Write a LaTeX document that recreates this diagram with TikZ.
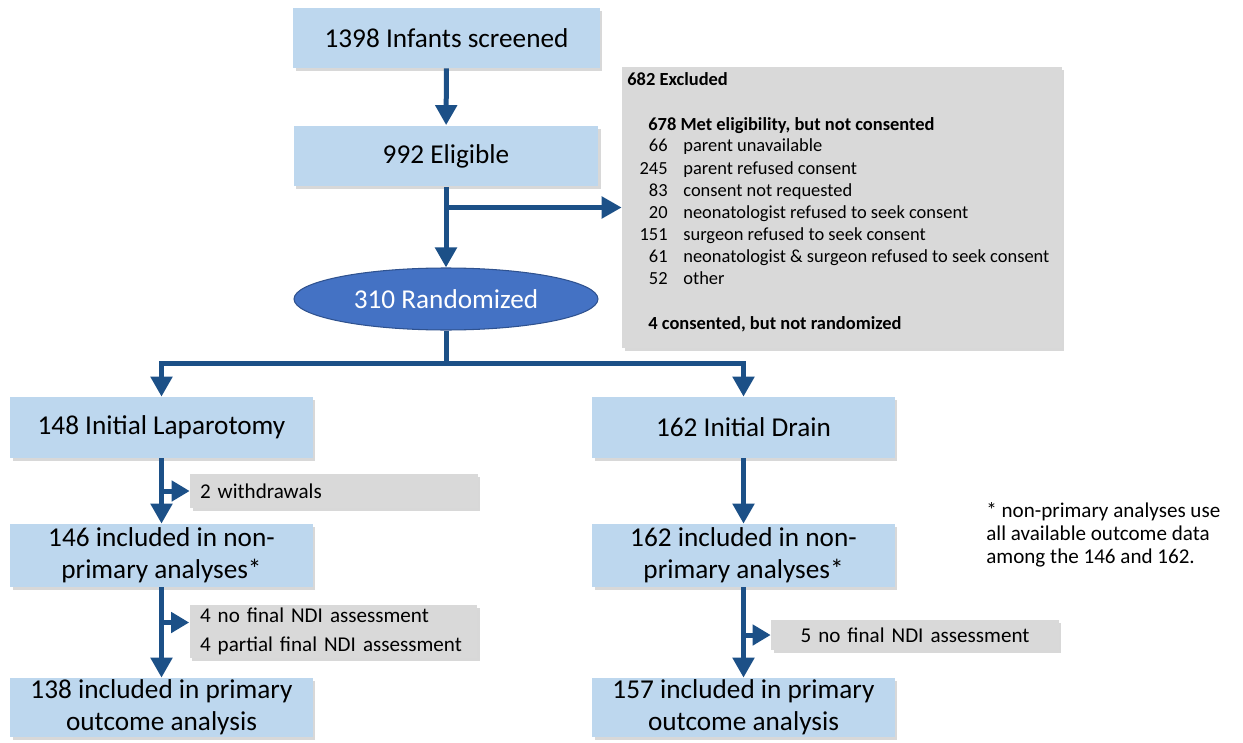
\documentclass[tikz,border=0pt]{standalone}
\usepackage{fontspec}
\setmainfont{Carlito}
\usepackage{tikz}
\usetikzlibrary{arrows.meta, shapes.geometric, shadows, calc}
\definecolor{boxblue}{RGB}{189,215,238}
\definecolor{arrblue}{RGB}{28,80,135}
\definecolor{randblue}{RGB}{68,114,196}
\definecolor{randedge}{RGB}{47,82,143}
\definecolor{gr}{RGB}{217,217,217}

\begin{document}
\begin{tikzpicture}[x=0.02cm, y=-0.02cm,
  shade/.style={drop shadow={shadow xshift=0.05cm, shadow yshift=-0.06cm, fill=black!30}},
  mainbox/.style={shade, fill=boxblue, minimum width=6.06cm, minimum height=1.22cm, align=center, inner sep=0pt, font=\fontsize{15.5}{18}\selectfont},
  sidebox/.style={shade, fill=gr, minimum width=5.76cm, inner xsep=0.2cm, inner ysep=0pt, font=\fontsize{12}{12.8}\selectfont},
  excltxt/.style={inner sep=0pt, font=\fontsize{10.5}{12.5}\selectfont},
  arr/.style={line width=0.1cm, draw=arrblue, -{Triangle[width=0.42cm,length=0.4cm]}},
  sidearr/.style={line width=0.1cm, draw=arrblue, -{Triangle[width=0.4cm,length=0.36cm]}},
  line/.style={line width=0.1cm, draw=arrblue}]
\useasboundingbox (0,0) rectangle (1243,743);

\node[mainbox, minimum width=6.14cm, minimum height=1.2cm] (screen) at (446.5,38) {1398 Infants screened};
\node[mainbox, minimum width=6.1cm] (elig) at (446,156) {992 Eligible};
\node[ellipse, fill=randblue, draw=randedge, line width=0.6pt, minimum width=6.08cm, minimum height=1.24cm, inner sep=0pt, text=white, font=\fontsize{15.5}{18}\selectfont] (rand) at (446,299) {310 Randomized};

% excluded
\node[shade, fill=gr, minimum width=8.8cm, minimum height=5.62cm, inner sep=0pt] (excl) at (842,207.5) {};
\node[excltxt, anchor=base west, font=\fontsize{10.5}{12.5}\selectfont\bfseries] (exclhead) at (627,86) {682 Excluded};
\node[excltxt, anchor=base west, font=\fontsize{10.5}{12.5}\selectfont\bfseries] (metelig) at (648,131) {678 Met eligibility, but not consented};
\foreach \n/\why [count=\i] in {66/parent unavailable, 245/parent refused consent, 83/consent not requested, 20/neonatologist refused to seek consent, 151/surgeon refused to seek consent, 61/neonatologist \& surgeon refused to seek consent, 52/other}{
\node[excltxt, anchor=base east] (num\i) at (668,130+22*\i) {\n};
\node[excltxt, anchor=base west] (why\i) at (683,130+22*\i) {\why};
}
\node[excltxt, anchor=base west, font=\fontsize{10.5}{12.5}\selectfont\bfseries] (notrand) at (648,329) {4 consented, but not randomized};

% laparotomy arm
\node[mainbox] (lap) at (161.5,427.5) {148 Initial Laparotomy};
\node[mainbox, minimum height=1.26cm] (nonpL) at (161.5,555.5) {146 included in non-\\primary analyses*};
\node[mainbox, minimum height=1.18cm] (primL) at (161.5,707.5) {138 included in primary\\outcome analysis};
\node[sidebox, minimum height=0.68cm, text width=5.36cm, align=left] (wdr) at (334,491) {2 withdrawals};
\node[sidebox, minimum height=1.06cm, text width=5.34cm, align=left] (ndiL) at (333.5,631.5) {4 no final NDI assessment\\[0.12cm]4 partial final NDI assessment};

% drain arm
\node[mainbox] (drain) at (743.5,427.5) {162 Initial Drain};
\node[mainbox, minimum height=1.26cm] (nonpR) at (743.5,555.5) {162 included in non-\\primary analyses*};
\node[mainbox, minimum height=1.18cm] (primR) at (743.5,707.5) {157 included in primary\\outcome analysis};
\node[sidebox, minimum height=0.6cm, text width=5.36cm, align=center] (ndiR) at (915,635) {5 no final NDI assessment};

\node[anchor=west, align=left, inner sep=0pt, font=\fontsize{12}{13}\selectfont] (note) at (986,535) {* non-primary analyses use\\all available outcome data\\among the 146 and 162.};

\draw[arr] (screen) -- (elig);
\draw[arr] (elig) -- (rand);
\draw[arr] (elig.south |- excl.west) -- (excl.west);
\coordinate (split) at (446,363);
\draw[line] (rand) -- (split);
\draw[arr] (split) -| (lap);
\draw[arr] (split) -| (drain);

\draw[arr] (lap) -- (nonpL);
\draw[sidearr] (lap.south |- wdr.west) -- (wdr.west);
\draw[arr] (nonpL) -- (primL);
\coordinate (ndiLin) at ([yshift=0.18cm]ndiL.west);
\draw[sidearr] (nonpL.south |- ndiLin) -- (ndiLin);

\draw[arr] (drain) -- (nonpR);
\draw[arr] (nonpR) -- (primR);
\draw[sidearr] (nonpR.south |- ndiR.west) -- (ndiR.west);
\end{tikzpicture}
\end{document}
